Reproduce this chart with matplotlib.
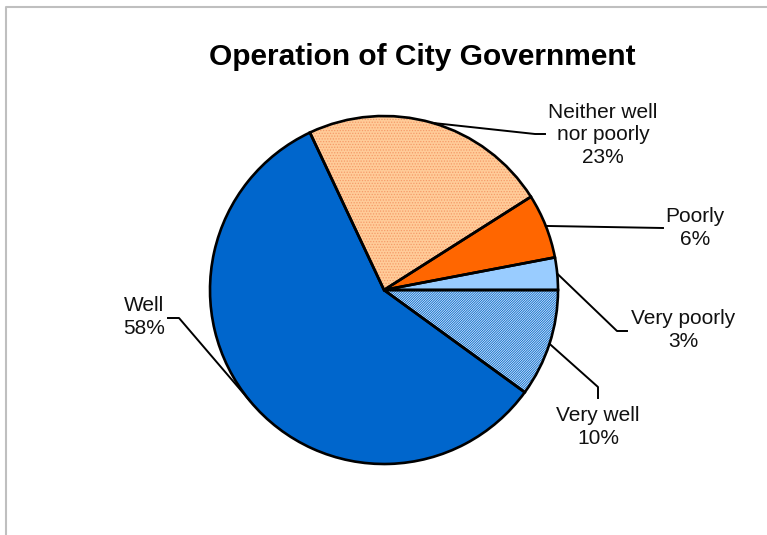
import numpy as np
import matplotlib.pyplot as plt
from matplotlib.patches import Wedge

# survey answers, clockwise from 3 o'clock
labels = ['Very well', 'Well', 'Neither well\nnor poorly', 'Poorly', 'Very poorly']
values = [10, 58, 23, 6, 3]
colors = ['#0066CC', '#0066CC', '#FFCC99', '#FF6600', '#99CCFF']
hatches = ['/' * 14, None, '.' * 6, None, None]
hatch_colors = ['#DDEBFA', None, '#F59A68', None, None]

# label block centres and leader elbows in pixel space (y measured from top)
label_pos = [(598, 427), (144, 317), (603, 135), (695, 228), (683, 330)]
elbows = [[(598, 387), (598, 398)],
          [(179, 318), (168, 318)],
          [(535, 134), (545, 134)],
          [(663, 228)],
          [(617, 331), (627, 331)]]

W, H = 767, 535
cx, cy, r = 384, H - 290, 174

plt.rcParams['font.family'] = ['Liberation Sans', 'DejaVu Sans']
plt.rcParams['hatch.linewidth'] = 0.6

fig = plt.figure(figsize=(W / 100, H / 100), dpi=100)
ax = fig.add_axes([0, 0, 1, 1])

wedges, _ = ax.pie(values, colors=colors, startangle=0, counterclock=False,
                   center=(cx, cy), radius=r, wedgeprops=dict(linewidth=0))

for w, h, hc in zip(wedges, hatches, hatch_colors):
    if h:
        ax.add_patch(Wedge((cx, cy), r, w.theta1, w.theta2, facecolor='none',
                           edgecolor=hc, hatch=h, linewidth=0, zorder=2))
    ax.add_patch(Wedge((cx, cy), r, w.theta1, w.theta2, facecolor='none',
                       edgecolor='black', linewidth=1.9, zorder=3))

# leader lines from slice middles to the labels
for w, pts in zip(wedges, elbows):
    mid = np.deg2rad((w.theta1 + w.theta2) / 2)
    xs = [cx + r * np.cos(mid)] + [p[0] for p in pts]
    ys = [cy + r * np.sin(mid)] + [H - p[1] for p in pts]
    ax.plot(xs, ys, color='black', linewidth=1.4, zorder=4)

for lab, v, (x, y) in zip(labels, values, label_pos):
    ax.text(x, H - y, f'{lab}\n{v}%', ha='center', va='center',
            fontsize=15, linespacing=1.25, color='#111111')

ax.text(422, H - 57, 'Operation of City Government', ha='center', va='center',
        fontsize=21.5, fontweight='heavy')

# chart area frame (only top and left edges show)
ax.plot([6, 6, W], [0, H - 7, H - 7], color='#BFBFBF', linewidth=1.5, clip_on=False)

ax.set_xlim(0, W)
ax.set_ylim(0, H)
ax.set_aspect('equal')
ax.axis('off')

fig.savefig('out.png', dpi=100)
